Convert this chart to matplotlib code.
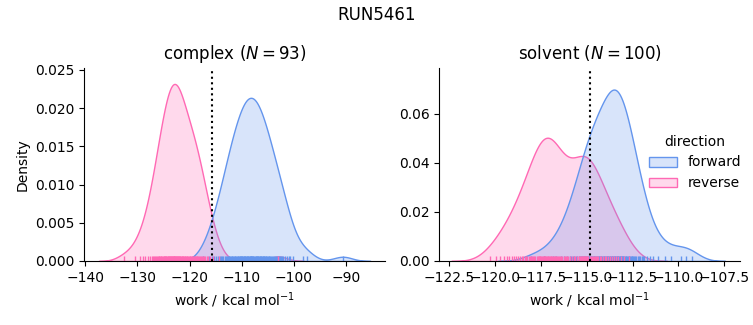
import matplotlib
matplotlib.use('Agg')
import matplotlib.pyplot as plt
import seaborn as sns
import pandas as pd

complex_forward = [
    -117.35, -116.35, -115.75, -115.25, -114.95, -114.6, -114.2,
    -113.95, -113.75, -113.5, -113.3, -113.1,
    -112.9, -112.7, -112.5, -112.35, -112.2, -112.05,
    -111.95, -111.8, -111.65, -111.5, -111.35, -111.2, -111.05,
    -110.95, -110.8, -110.7, -110.55, -110.4, -110.3, -110.15, -110.05,
    -109.95, -109.85, -109.75, -109.6, -109.5, -109.4, -109.3, -109.15, -109.05,
    -108.95, -108.85, -108.75, -108.6, -108.5, -108.4, -108.3, -108.2, -108.15, -108.05,
    -107.95, -107.85, -107.75, -107.6, -107.5, -107.35, -107.25, -107.1, -107.0,
    -106.9, -106.8, -106.7, -106.55, -106.45, -106.35, -106.25, -106.1, -106.0,
    -105.9, -105.75, -105.65, -105.5, -105.35, -105.25, -105.1, -105.0,
    -104.85, -104.7, -104.5, -104.35, -104.2, -104.0,
    -103.85, -103.65, -103.45, -103.25, -103.05,
    -102.85, -102.6, -102.4, -102.3, -102.05,
    -101.75, -101.4, -101.0, -100.65, -100.15, -98.2, -97.5,
    -90.6,
]
complex_reverse = [
    -132.5, -130.5, -129.6, -129.0, -128.5, -128.0, -127.65, -127.3,
    -127.1, -126.9, -126.65, -126.45, -126.25,
    -126.1, -125.95, -125.8, -125.65, -125.5, -125.4, -125.3,
    -125.15, -125.0, -124.9, -124.75, -124.65, -124.55, -124.45, -124.35, -124.2,
    -124.1, -124.0, -123.9, -123.8, -123.7, -123.6, -123.5, -123.4, -123.3, -123.2,
    -123.12, -123.03, -122.94, -122.9, -122.85, -122.76, -122.67, -122.58, -122.49, -122.4,
    -122.31, -122.22,
    -122.1, -122.0, -121.9, -121.8, -121.65, -121.55, -121.45, -121.35, -121.2,
    -121.1, -120.95, -120.85, -120.7, -120.55, -120.45, -120.35, -120.2,
    -120.0, -119.85, -119.7, -119.6, -119.45, -119.3, -119.15,
    -119.05, -118.9, -118.8, -118.65, -118.5, -118.35, -118.2,
    -118.0, -117.8, -117.6, -117.4, -117.2,
    -116.95, -116.7, -116.4, -116.0, -115.5, -114.45,
    -103.0,
]
solvent_forward = [
    -118.02, -117.34, -116.87, -116.66, -116.4, -116.24, -116.09,
    -115.93, -115.85, -115.77, -115.68, -115.6, -115.51,
    -115.43, -115.38, -115.32, -115.26, -115.2, -115.15, -115.09, -115.03, -114.97,
    -114.92, -114.9, -114.88, -114.84, -114.79, -114.75, -114.71, -114.66, -114.62, -114.58,
    -114.54, -114.5, -114.45,
    -114.4, -114.36, -114.32, -114.28, -114.24, -114.2, -114.16, -114.12, -114.08, -114.04,
    -114.0, -113.96, -113.92,
    -113.88, -113.85, -113.82, -113.78, -113.74, -113.71, -113.68, -113.64, -113.61, -113.6,
    -113.58, -113.54, -113.5, -113.47, -113.44, -113.41,
    -113.37, -113.34, -113.31, -113.3, -113.28, -113.25, -113.21, -113.18, -113.15, -113.12,
    -113.09, -113.06, -113.03, -113.0, -112.97, -112.92, -112.88,
    -112.84, -112.8, -112.76, -112.72, -112.67, -112.63, -112.59, -112.55, -112.51, -112.47,
    -112.42, -112.38,
    -112.3, -112.23, -112.16, -112.07, -112.0, -111.93, -111.87,
    -111.74, -111.57, -111.37, -111.1, -110.75, -110.42, -109.86, -109.56, -109.28,
]
solvent_reverse = [
    -120.31, -119.95, -119.74, -119.53, -119.37, -119.22,
    -119.06, -118.96, -118.85, -118.75, -118.64,
    -118.54, -118.47, -118.39, -118.33, -118.26, -118.18, -118.12,
    -118.05, -117.99, -117.92, -117.86, -117.8, -117.74, -117.67, -117.62, -117.6, -117.57,
    -117.53, -117.49, -117.44, -117.4, -117.36, -117.32, -117.3, -117.27, -117.22, -117.18,
    -117.14, -117.1, -117.06,
    -117.01, -116.97, -116.93, -116.88, -116.84, -116.8, -116.75, -116.71, -116.66, -116.62,
    -116.58, -116.54,
    -116.48, -116.41, -116.34, -116.27, -116.21, -116.14, -116.08, -116.02,
    -115.93, -115.83, -115.72, -115.62, -115.51,
    -115.44, -115.4, -115.36, -115.31, -115.27, -115.25, -115.23, -115.18, -115.13, -115.1,
    -115.09, -115.05, -115.01, -114.97,
    -114.91, -114.85, -114.78, -114.73, -114.68, -114.61, -114.55, -114.5, -114.45,
    -114.37, -114.28, -114.2, -114.11, -114.03, -113.95,
    -113.84, -113.74, -113.64, -113.53, -113.43,
    -113.27, -113.12, -112.96, -112.7,
]

phases = ['complex', 'solvent']
title_n = [93, 100]
free_energy = [-115.73, -114.81]  # dotted lines
xlims = [(-140.2, -82.5), (-123.05, -106.64)]
ylims = [(0, 0.0253), (0, 0.0787)]
colors = {'forward': 'cornflowerblue', 'reverse': 'hotpink'}

rows = []
for w in complex_forward:
    rows.append({'phase': 'complex', 'direction': 'forward', 'work': w})
for w in complex_reverse:
    rows.append({'phase': 'complex', 'direction': 'reverse', 'work': w})
for w in solvent_forward:
    rows.append({'phase': 'solvent', 'direction': 'forward', 'work': w})
for w in solvent_reverse:
    rows.append({'phase': 'solvent', 'direction': 'reverse', 'work': w})
df = pd.DataFrame(rows)

g = sns.displot(data=df, x='work', hue='direction', col='phase', kind='kde',
                fill=True, rug=True, palette=colors,
                facet_kws=dict(sharex=False, sharey=False))

for i, ax in enumerate(g.axes.flat):
    ax.axvline(free_energy[i], color='k', ls=':', lw=1.5)
    ax.set_title(r'%s ($N=%d$)' % (phases[i], title_n[i]))
    ax.set_xlabel(r'work / kcal mol$^{-1}$')
    ax.set_xlim(*xlims[i])
    ax.set_ylim(*ylims[i])

g.figure.suptitle('RUN5461')
g.figure.set_size_inches(7.53, 3.25)
g.figure.subplots_adjust(left=0.112, right=0.9827, bottom=0.197, top=0.792, wspace=0.1806)
sns.move_legend(g, 'center left', bbox_to_anchor=(0.845, 0.50))

plt.savefig('out.png', dpi=100)
